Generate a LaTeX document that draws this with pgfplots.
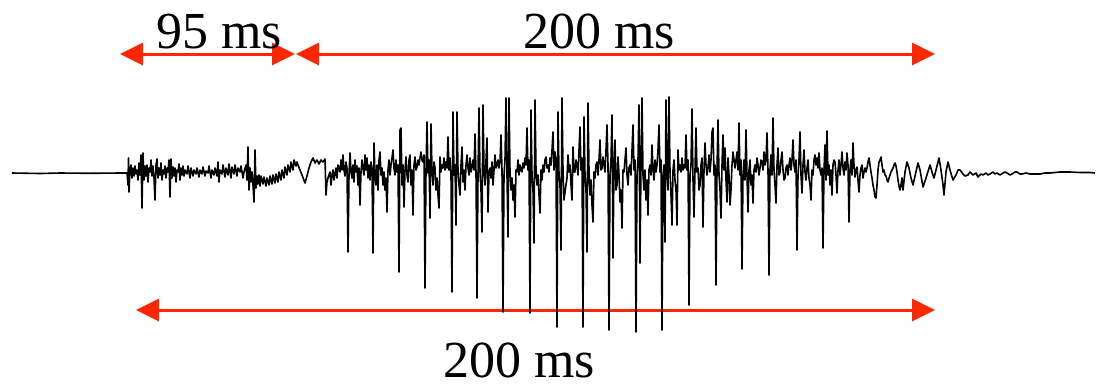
\documentclass[border=0pt]{standalone}
\usepackage{fontspec}
\setmainfont{Liberation Serif}
\usepackage{pgfplots}
\pgfplotsset{compat=1.18}
\usetikzlibrary{arrows.meta}
\definecolor{arrowred}{RGB}{255,38,0}
\begin{document}
\begin{tikzpicture}
\begin{axis}[width=1106pt,height=383pt,scale only axis,
  xmin=0,xmax=1106,ymin=0,ymax=383,y dir=reverse,hide axis,clip=false]
\path (axis cs:0,0) rectangle (axis cs:1106,383);
% arrows
\draw[arrowred,line width=3pt,{Triangle[length=23pt,width=22pt]}-{Triangle[length=23pt,width=22pt]}] (axis cs:120,54) -- (axis cs:295,54);
\draw[arrowred,line width=3pt,{Triangle[length=23pt,width=22pt]}-{Triangle[length=23pt,width=22pt]}] (axis cs:296,54) -- (axis cs:935,54);
\draw[arrowred,line width=3pt,{Triangle[length=23pt,width=22pt]}-{Triangle[length=23pt,width=22pt]}] (axis cs:136,310) -- (axis cs:935,310);
\node[anchor=base,font=\fontsize{52}{60}\selectfont,inner sep=0pt] at (axis cs:219,48) {95 ms};
\node[anchor=base,font=\fontsize{52}{60}\selectfont,inner sep=0pt] at (axis cs:599,48) {200 ms};
\node[anchor=base,font=\fontsize{52}{60}\selectfont,inner sep=0pt,text depth=0pt] at (axis cs:519,377) {200 ms};
% waveform
\addplot[black,line width=1.6pt,line join=round] coordinates {
(12,173) (40,173.5) (60,173) (90,173.3) (120,173) (127,173)
(128,185) (128.5,158) (129,192) (130,170) (131,165) (132,178) (133,168) (134,176) (135,166) (136,174) (137,170) (138,180) (139,163) (140,175) (141,155) (142,208) (143,153) (144,180) (145,166) (146,176) (147,165) (148,182) (149,168) (150,172) (151,160) (152,176) (153,166) (154,178) (155,200) (156,165) (157,159) (158,178) (159,168) (160,175) (161,163) (162,180) (163,170) (164,174) (165,166) (166,178) (167,168) (168,172) (169,160) (170,197) (171,159) (172,178) (173,167) (174,176) (175,168) (176,182) (177,170) (178,172) (179,164) (180,180) (181,168) (182,175) (183,166) (184,176) (185,170) (187,174) (188,166) (190,178) (191,168) (193,176) (194,170) (196,174) (197,168) (199,177) (200,170) (202,174) (203,167) (205,176) (206,171) (208,173) (209,166) (211,178) (212,170) (214,175) (215,168) (217,176) (218,162) (219,182) (220,170) (222,174) (223,165) (225,177) (226,168) (228,175) (229,164) (231,178) (232,167) (234,174) (235,165) (237,176) (238,168) (240,172) (241,166) (243,178) (244,172) (246,165) (247,180) (248,147) (249,190) (250,168) (251,182) (252,172) (253,185) (254,202) (255,150) (256,188) (257,176) (258,184) (259,175) (260,186) (261,176) (263,184) (264,177) (266,186) (267,178) (269,185) (270,176) (272,184) (273,175) (275,183) (276,174) (278,182) (279,172) (281,180) (282,170) (284,178) (285,167) (287,175) (288,165) (290,172) (291,162) (293,170) (294,160) (296,166) (297,162) (298,165) (300,170) (302,175) (305,183) (307,176) (309,168) (311,162) (313,158) (315,163) (317,160) (319,164) (321,160) (323,162) (325,159) (326,195) (327,182) (328,178) (330,172) (331,185) (332,175) (333,170) (334,180) (336,168) (337,178) (338,165) (340,172) (341,160) (342,170)
(343,155) (344,170) (345,176) (346,162) (347,168) (348,252) (349,175) (350,153) (351,172) (352,178) (353,165) (354,182) (355,160) (356,172) (357,166) (358,185) (359,168) (360,205) (361,172) (362,160) (363,168) (364,175) (365,155) (366,170) (367,158) (368,178) (369,165) (370,180) (371,162) (372,170)
(373,253) (374,143) (375,175) (376,185) (377,165) (378,190) (379,160) (380,152) (381,175) (382,168) (383,185) (384,172) (385,190) (386,178) (387,212) (388,170) (389,160) (390,175) (391,165) (392,158) (393,150) (394,168) (395,175) (396,160) (397,172) (398,165)
(399,272) (400,130) (401,128) (402,185) (403,165) (404,207) (405,170) (406,157) (407,175) (408,182) (409,160) (410,155) (411,185) (412,170) (413,215) (414,165) (415,157) (416,170) (417,167) (418,160) (419,165) (420,158) (421,152) (422,160) (423,162) (424,155)
(425,288) (426,170) (427,122) (428,173) (429,160) (430,218) (431,124) (432,170) (433,185) (434,162) (435,168) (436,190) (437,178) (438,195) (439,208) (440,157) (441,172) (442,165) (443,168) (444,158) (445,170) (446,162) (447,168) (448,137) (449,170) (450,158) (451,175)
(452,292) (453,112) (454,175) (455,165) (456,225) (457,112) (458,170) (459,185) (460,195) (461,165) (462,147) (463,182) (464,170) (465,190) (466,165) (467,155) (468,168) (469,175) (470,158) (471,172) (472,167) (473,160) (474,170) (475,134) (476,172)
(477,298) (478,175) (479,108) (480,172) (481,190) (482,232) (483,105) (484,170) (485,185) (486,160) (487,138) (488,212) (489,172) (490,168) (491,178) (492,162) (493,185) (494,170) (495,155) (496,168) (497,165) (498,160) (499,168) (500,162) (501,135) (502,170)
(503,312) (504,175) (505,160) (506,98) (507,175) (508,237) (509,98) (510,172) (511,190) (512,178) (513,200) (514,185) (515,217) (516,170) (517,172) (518,160) (519,175) (520,165) (521,170) (522,172) (523,163) (524,168) (525,158) (526,165) (527,128) (528,170) (529,160)
(530,313) (531,110) (532,175) (533,190) (534,243) (535,100) (536,170) (537,185) (538,175) (539,195) (540,213) (541,170) (542,180) (543,165) (544,172) (545,160) (546,157) (547,168) (548,165) (549,172) (550,158) (551,165) (552,150) (553,132) (554,170) (555,152) (556,160)
(557,327) (558,112) (559,175) (560,185) (561,250) (562,98) (563,170) (564,200) (565,192) (566,185) (567,178) (568,155) (569,172) (570,165) (571,185) (572,200) (573,147) (574,172) (575,172) (576,160) (577,165) (578,175) (579,150) (580,127) (581,170) (582,158)
(583,327) (584,117) (585,175) (586,190) (587,252) (588,103) (589,170) (590,195) (591,180) (592,205) (593,222) (594,172) (595,178) (596,165) (597,162) (598,175) (599,160) (600,140) (601,170) (602,168) (603,157) (604,165) (605,172) (606,150) (607,125) (608,165)
(609,330) (610,175) (611,160) (612,115) (613,258) (614,165) (615,140) (616,190) (617,185) (618,157) (619,175) (620,202) (621,190) (622,228) (623,170) (624,172) (625,160) (626,148) (627,175) (628,185) (629,168) (630,165) (631,175) (632,150) (633,125) (634,170) (635,160)
(636,332) (637,175) (638,160) (639,105) (640,263) (641,165) (642,98) (643,175) (644,190) (645,170) (646,200) (647,180) (648,215) (649,170) (650,165) (651,175) (652,145) (653,170) (654,180) (655,160) (656,172) (657,165) (658,150) (659,125) (660,172) (661,160)
(662,330) (663,175) (664,165) (665,242) (666,100) (667,175) (668,190) (669,97) (670,172) (671,195) (672,225) (673,170) (674,160) (675,180) (676,190) (677,225) (678,150) (679,170) (680,165) (681,172) (682,158) (683,170) (684,165) (685,168) (686,135) (687,170) (688,160)
(689,305) (690,175) (691,165) (692,109) (693,180) (694,217) (695,170) (696,128) (697,172) (698,168) (699,190) (700,185) (701,165) (702,158) (703,227) (704,170) (705,143) (706,165) (707,175) (708,168) (709,155) (710,172) (711,160) (712,132) (713,128) (714,175) (715,165)
(716,285) (717,170) (718,120) (719,175) (720,190) (721,218) (722,165) (723,135) (724,170) (725,148) (726,180) (727,202) (728,158) (729,175) (730,205) (731,190) (732,165) (733,152) (734,160) (735,168) (736,160) (737,152) (738,170) (739,123) (740,175) (741,160)
(742,269) (743,175) (744,160) (745,180) (746,130) (747,175) (748,212) (749,170) (750,160) (751,185) (752,175) (753,203) (754,170) (755,165) (756,172) (757,158) (758,165) (759,175) (760,168) (761,160) (762,162) (763,170) (764,152) (765,165) (766,160) (767,133) (768,170)
(769,275) (770,170) (771,155) (772,175) (773,118) (774,170) (775,185) (776,203) (777,165) (778,148) (779,175) (780,172) (781,160) (782,152) (783,170) (784,180) (785,178) (786,168) (787,165) (788,175) (789,165) (790,158) (791,170) (792,160) (793,140) (794,165) (795,172) (796,160)
(797,250) (798,175) (799,160) (800,132) (801,175) (802,193) (803,165) (804,150) (805,172) (806,180) (807,168) (808,160) (809,178) (810,185) (811,200) (812,170) (813,175) (814,160) (815,155) (816,165) (817,158) (818,168) (819,153) (820,170) (821,175) (822,168)
(823,248) (824,170) (825,145) (826,180) (827,131) (828,175) (829,165) (830,185) (831,170) (832,195) (833,165) (834,160) (835,162) (836,175) (837,193) (838,170) (839,160) (840,175) (841,165) (842,152) (843,168) (844,175) (845,162) (846,170) (847,153) (848,165)
(849,222) (850,170) (851,160) (852,175) (853,143) (854,165) (855,177) (856,170) (857,167) (858,180) (859,192) (860,175) (861,168) (862,165) (863,178) (864,172) (865,168) (866,172) (867,168) (868,162) (869,158) (870,165) (871,172) (872,178) (873,185) (874,190) (875,197)
(876,198) (877,185) (878,170) (879,162) (880,160) (881,157) (882,165) (883,172) (884,170) (885,175) (886,176) (887,180) (888,182) (889,178) (890,175) (891,172) (892,170) (893,168) (894,165) (895,163) (896,166) (897,172) (898,180) (899,186) (900,190) (901,185) (902,178)
(903,190) (905,172) (907,162) (909,168) (911,178) (913,185) (915,176) (918,163) (920,170) (923,187) (926,178) (930,165) (932,172) (934,178) (936,170) (939,158) (941,170) (943,185) (944,195) (946,172) (948,162) (950,170) (953,180) (956,175) (958,170) (960,170) (963,174) (965,176) (968,175)
(970,172) (973,175) (976,173) (978,177) (981,174) (983,175) (986,173) (988,175) (990,174) (993,172) (995,174) (997,173) (1000,175) (1003,173) (1005,172) (1007,173) (1010,175) (1012,174) (1015,172) (1017,172) (1020,174) (1022,174) (1026,173) (1030,174) (1035,174) (1040,174) (1045,173) (1050,173) (1060,172) (1070,172) (1080,172.5) (1090,172.5) (1095,173)
};
\end{axis}
\end{tikzpicture}
\end{document}
